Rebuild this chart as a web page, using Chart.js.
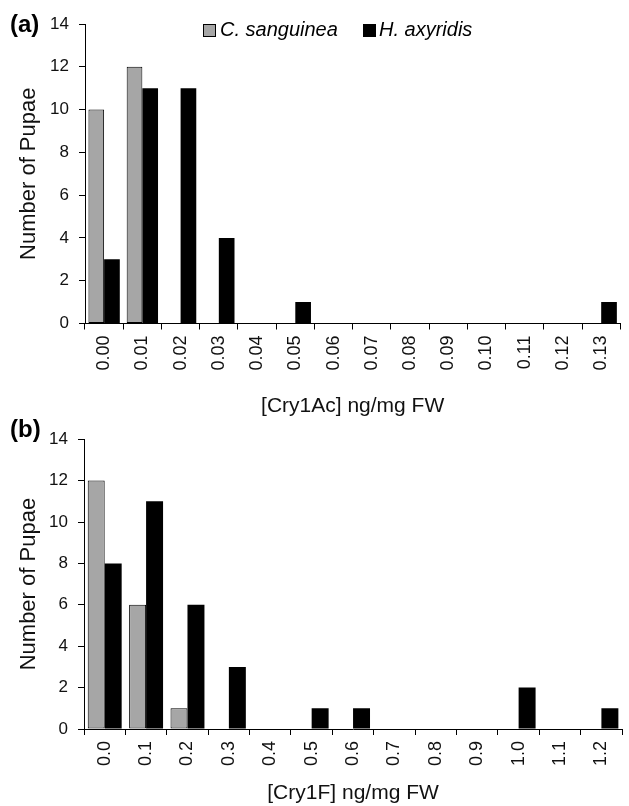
<!DOCTYPE html>
<html>
<head>
<meta charset="utf-8">
<script src="https://cdn.jsdelivr.net/npm/chart.js@4.4.1/dist/chart.umd.min.js"></script>
<style>
  body { margin: 0; background: #fff; }
  #wrap { position: relative; width: 629px; height: 806px; font-family: "Liberation Sans", Arial, sans-serif; }
  canvas { position: absolute; left: 0; }
  .panel { position: absolute; left: 10px; font-weight: bold; font-size: 24px; color: #000; }
  .leg { position: absolute; top: 18px; font-style: italic; font-size: 20px; color: #000; }
  .box { position: absolute; width: 11px; height: 11px; border: 1px solid #000; }
</style>
</head>
<body>
<div id="wrap">
  <canvas id="chartA" width="629" height="419" style="top:0"></canvas>
  <canvas id="chartB" width="629" height="387" style="top:419px"></canvas>
  <div class="panel" style="top:10px">(a)</div>
  <div class="panel" style="top:415px">(b)</div>
  <div class="box" style="left:203px; top:24px; background:#a6a6a6"></div>
  <div class="leg" style="left:220px">C. sanguinea</div>
  <div class="box" style="left:363px; top:24px; background:#000"></div>
  <div class="leg" style="left:379px">H. axyridis</div>
</div>
<script>
// panel (a): Cry1Ac
var catsA = ['0.00', '0.01', '0.02', '0.03', '0.04', '0.05', '0.06', '0.07', '0.08', '0.09', '0.10', '0.11', '0.12', '0.13'];
var sanguineaA = [10, 12, 0, 0, 0, 0, 0, 0, 0, 0, 0, 0, 0, 0];
var axyridisA = [3, 11, 11, 4, 0, 1, 0, 0, 0, 0, 0, 0, 0, 1];

// panel (b): Cry1F
var catsB = ['0.0', '0.1', '0.2', '0.3', '0.4', '0.5', '0.6', '0.7', '0.8', '0.9', '1.0', '1.1', '1.2'];
var sanguineaB = [12, 6, 1, 0, 0, 0, 0, 0, 0, 0, 0, 0, 0];
var axyridisB = [8, 11, 6, 3, 0, 1, 1, 0, 0, 0, 2, 0, 1];

var yTicks = { min: 0, max: 14, step: 2 };

var font = 'Liberation Sans';

function makeChart(id, cats, sang, axy, xTitle, yWidth, xHeight, padTop, padRight, titlePadBottom) {
    var ctx = document.getElementById(id).getContext('2d');
    return new Chart(ctx, {
        type: 'bar',
        data: {
            labels: cats,
            datasets: [
                {
                    label: 'C. sanguinea',
                    data: sang,
                    backgroundColor: '#a6a6a6',
                    borderColor: '#000',
                    borderWidth: 1,
                    borderSkipped: false
                },
                {
                    label: 'H. axyridis',
                    data: axy,
                    backgroundColor: '#000',
                    borderColor: '#000',
                    borderWidth: 0
                }
            ]
        },
        options: {
            responsive: false,
            animation: false,
            devicePixelRatio: 1,
            categoryPercentage: 0.82,
            barPercentage: 1.0,
            layout: { padding: { top: padTop, right: padRight, left: 0, bottom: 0 } },
            plugins: {
                legend: { display: false },
                tooltip: { enabled: false }
            },
            scales: {
                x: {
                    offset: true,
                    grid: { offset: true, drawOnChartArea: false, drawTicks: true, tickLength: 6, color: '#000' },
                    border: { display: true, color: '#000', width: 1 },
                    ticks: {
                        autoSkip: false, minRotation: 90, maxRotation: 90, padding: 6,
                        color: '#111', font: { family: font, size: 18 }
                    },
                    title: {
                        display: true, text: xTitle, color: '#111',
                        font: { family: font, size: 21 },
                        padding: { top: 0, bottom: titlePadBottom }
                    },
                    afterFit: function (scale) { scale.height = xHeight; }
                },
                y: {
                    min: yTicks.min,
                    max: yTicks.max,
                    grid: { drawOnChartArea: false, drawTicks: true, tickLength: 6, color: '#000' },
                    border: { display: true, color: '#000', width: 1 },
                    ticks: {
                        stepSize: yTicks.step, padding: 10,
                        color: '#111', font: { family: font, size: 17 }
                    },
                    title: {
                        display: true, text: 'Number of Pupae', color: '#111',
                        font: { family: font, size: 22 },
                        padding: { top: 16, bottom: 16 }
                    },
                    afterFit: function (scale) { scale.width = yWidth; }
                }
            }
        }
    });
}

makeChart('chartA', catsA, sanguineaA, axyridisA, '[Cry1Ac] ng/mg FW', 85, 95.5, 24, 6, 0);
makeChart('chartB', catsB, sanguineaB, axyridisB, '[Cry1F] ng/mg FW', 84, 77, 10, 0, 0);
</script>
</body>
</html>
